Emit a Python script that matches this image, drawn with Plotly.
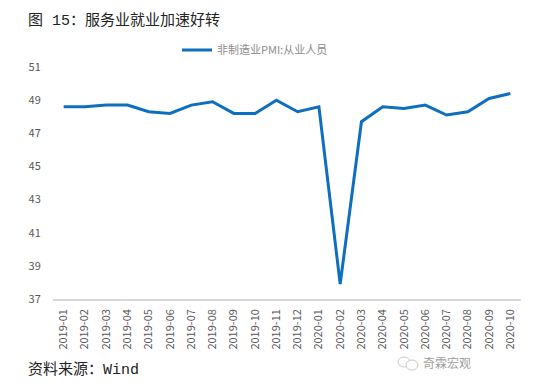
import plotly.graph_objects as go

months = ["2019-01","2019-02","2019-03","2019-04","2019-05","2019-06","2019-07","2019-08",
          "2019-09","2019-10","2019-11","2019-12","2020-01","2020-02","2020-03","2020-04",
          "2020-05","2020-06","2020-07","2020-08","2020-09","2020-10"]
employment = [48.6, 48.6, 48.7, 48.7, 48.3, 48.2, 48.7, 48.9, 48.2, 48.2, 49.0, 48.3,
              48.6, 37.9, 47.7, 48.6, 48.5, 48.7, 48.1, 48.3, 49.1, 49.4]
series_name = "非制造业PMI:从业人员"
y_ticks = [37, 39, 41, 43, 45, 47, 49, 51]

OFF = 8                               # page body margin in the browser
W, H = 550 - OFF, 390 - OFF
L, R, T, B = 53 - OFF, 29, 10 - OFF, 91   # margins
PW, PH = W - L - R, H - T - B
AX_TOP = 67                           # screen y of top of y axis


def px(xs):
    return (xs - OFF - L) / PW


def py(ys):
    return 1 - (ys - OFF - T) / PH


fig = go.Figure()
fig.add_trace(go.Scatter(x=months, y=employment, mode="lines", name=series_name,
                         line=dict(color="#0F6FBF", width=3), showlegend=True))

serif = "Liberation Mono, Noto Sans CJK SC, sans-serif"

fig.update_layout(
    width=W, height=H,
    margin=dict(l=L, r=R, t=T, b=B, autoexpand=False),
    paper_bgcolor="white", plot_bgcolor="white",
    font=dict(family="Noto Sans CJK SC, sans-serif", color="#595959"),
    showlegend=True,
    legend=dict(orientation="h", x=px(177), xanchor="left", y=py(50), yanchor="middle",
                font=dict(size=11, color="#8C8C8C"), bgcolor="rgba(0,0,0,0)"),
    xaxis=dict(type="category", range=[-0.5, 21.5], tickangle=-90, automargin=False,
               tickfont=dict(size=11, color="#595959"), showgrid=False,
               showline=True, linecolor="#D9D9D9", linewidth=1.5,
               ticks="outside", ticklen=4, tickcolor="rgba(0,0,0,0)",
               zeroline=False),
    yaxis=dict(range=[37, 51], tickvals=y_ticks, showgrid=False, zeroline=False,
               domain=[0, py(AX_TOP)], automargin=False,
               showline=False, tickfont=dict(size=11, color="#595959"),
               ticks="outside", ticklen=9, tickcolor="rgba(0,0,0,0)"),
    shapes=[
        dict(type="circle", xref="paper", yref="paper",
             x0=px(398), x1=px(410), y0=py(367), y1=py(357),
             line=dict(color="#C8C8C8", width=1)),
        dict(type="circle", xref="paper", yref="paper",
             x0=px(406), x1=px(418), y0=py(370), y1=py(360),
             line=dict(color="#C8C8C8", width=1), fillcolor="white"),
    ],
    annotations=[
        dict(text="图 15：服务业就业加速好转", xref="paper", yref="paper",
             x=px(26), y=py(21), xanchor="left", yanchor="middle",
             showarrow=False, font=dict(size=15, color="#222222", family=serif)),
        dict(text="资料来源：Wind", xref="paper", yref="paper",
             x=px(26), y=py(370), xanchor="left", yanchor="middle",
             showarrow=False, font=dict(size=15, color="#222222", family=serif)),
        dict(text="奇霖宏观", xref="paper", yref="paper",
             x=px(421), y=py(362), xanchor="left", yanchor="middle",
             showarrow=False, font=dict(size=12, color="#A0A0A0",
                                        family="Noto Sans CJK SC, sans-serif")),
    ],
)

fig.write_html("out.html")
